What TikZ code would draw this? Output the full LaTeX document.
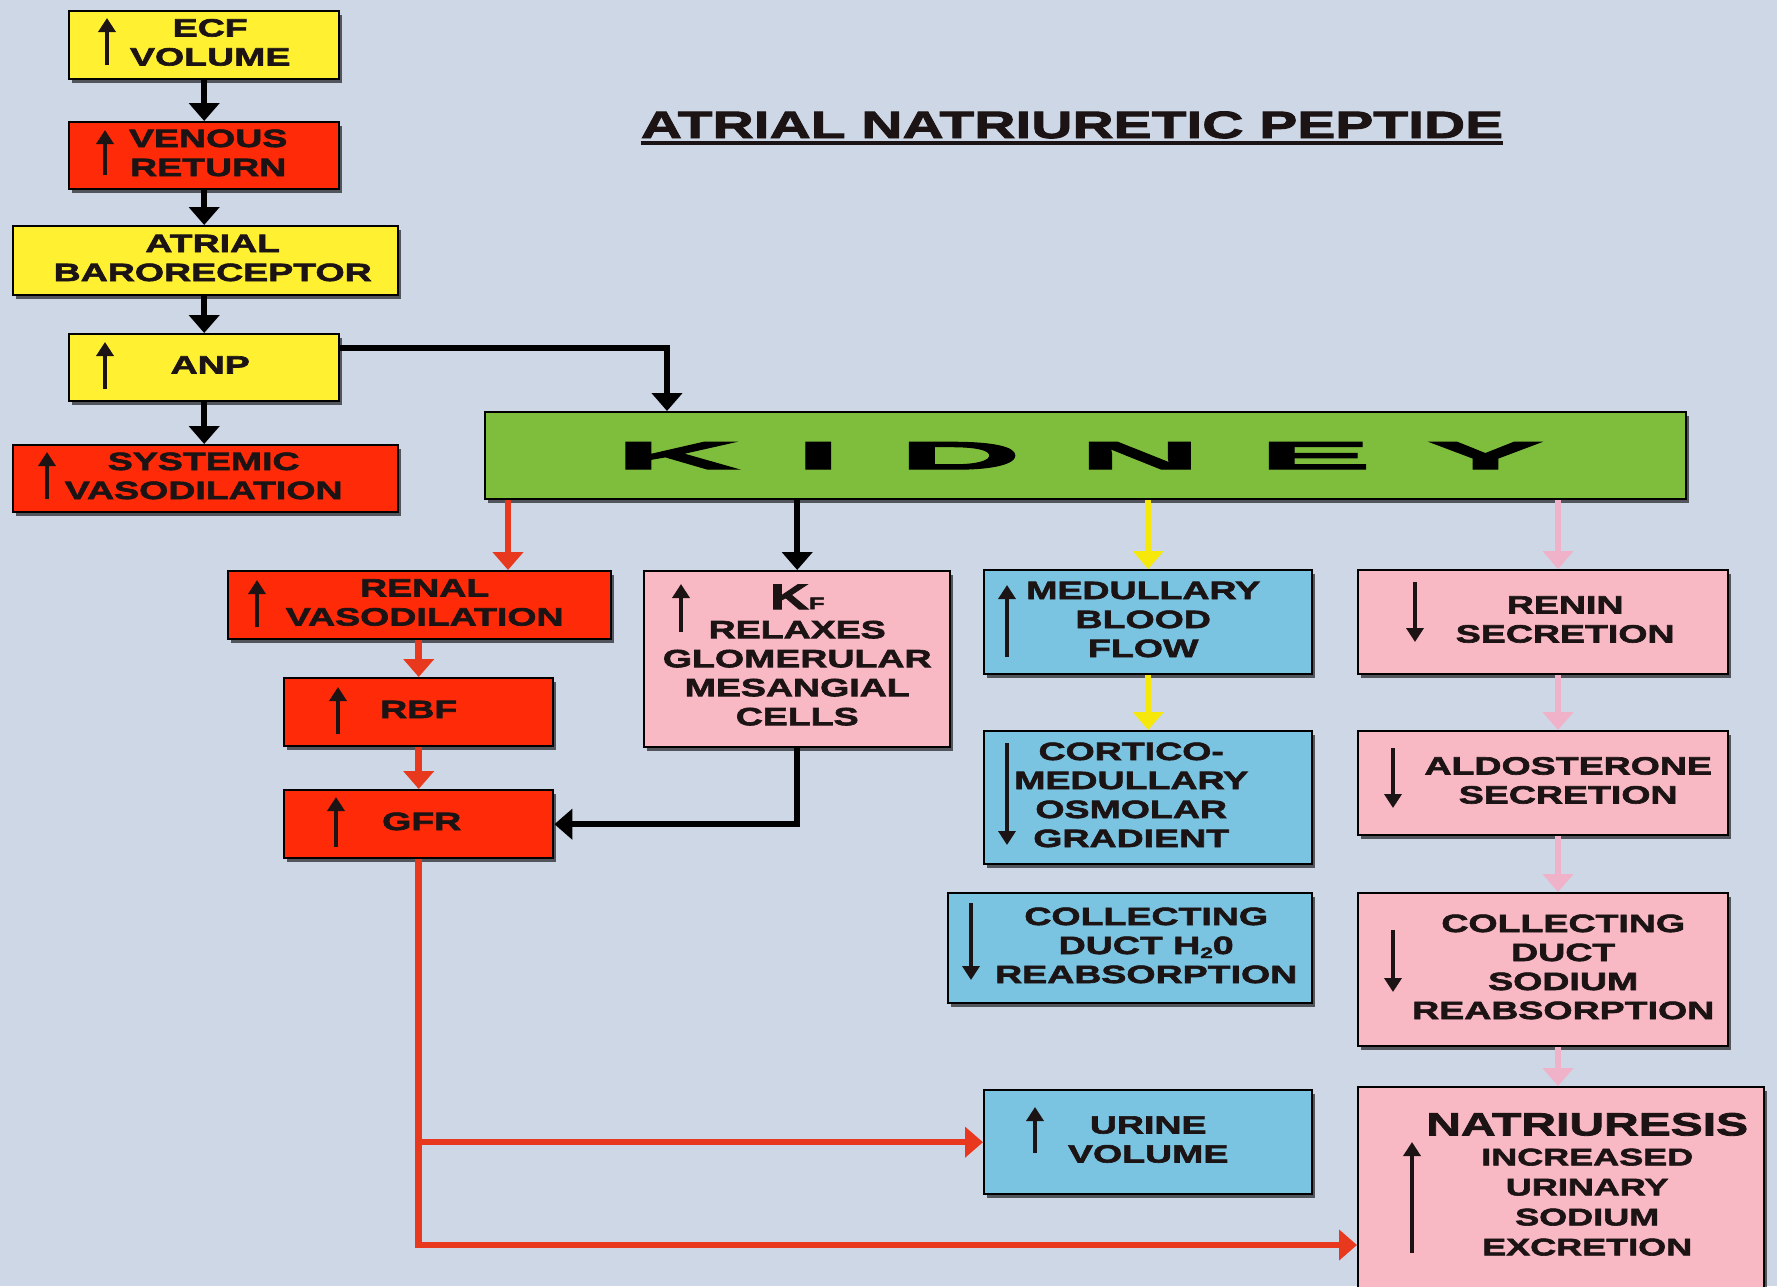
\documentclass[tikz,border=0pt]{standalone}
\usepackage{fontspec}
\setmainfont{Liberation Sans}
\newfontfamily\bodyfont[FakeStretch=1.5,FakeBold=2.5]{Liberation Sans}
\newfontfamily\widefont[FakeStretch=4.4,FakeBold=3]{Liberation Sans}
\usetikzlibrary{arrows.meta,shadows,calc}

\definecolor{bgc}{RGB}{206,215,230}
\definecolor{ylw}{RGB}{255,240,50}
\definecolor{rdb}{RGB}{255,42,8}
\definecolor{grn}{RGB}{126,190,60}
\definecolor{pnk}{RGB}{248,184,196}
\definecolor{blu}{RGB}{122,196,226}
\definecolor{txt}{RGB}{28,20,20}
\definecolor{ared}{RGB}{232,56,30}
\definecolor{ayel}{RGB}{245,232,10}
\definecolor{apnk}{RGB}{240,178,200}

% multi-line box label, shifted sideways by half of #1
\newcommand{\boxtext}[2]{\hspace*{#1}\begin{tabular}{@{}c@{}}#2\end{tabular}}

\tikzset{
  bx/.style={draw=black, line width=2.4pt, anchor=north west, inner sep=0pt,
    text=txt, font=\bodyfont\bfseries\fontsize{25}{29}\selectfont,
    drop shadow={shadow xshift=3pt, shadow yshift=-4pt, opacity=.6, fill=black}},
  conn/.style={line width=6.5pt, -{Triangle[width=30pt,length=18pt]}},
  blk/.style={conn, draw=black},
  rdc/.style={conn, draw=ared},
  ylc/.style={conn, draw=ayel},
  pkc/.style={conn, draw=apnk},
  ind/.style={draw=txt, line width=4.5pt, -{Triangle[width=17pt,length=14pt]}},
}

\begin{document}
\begin{tikzpicture}[x=1pt, y=-1pt]
\fill[bgc] (0,0) rectangle (1777,1286);
\useasboundingbox (0,0) rectangle (1777,1286);

% title
\node[font=\bodyfont\bfseries\fontsize{38}{40}\selectfont, text=txt, anchor=base, inner sep=0pt]
  (title) at (1072,138) {ATRIAL NATRIURETIC PEPTIDE};
\draw[line width=3.5pt, txt] ([yshift=-5pt]title.base west) -- ([yshift=-5pt]title.base east);

% left column
\node[bx, fill=ylw, minimum width=270pt, minimum height=68pt] (ecf) at (68,10) {\boxtext{12pt}{ECF\\VOLUME}};
\node[bx, fill=rdb, minimum width=270pt, minimum height=67pt] (venous) at (68,121) {\boxtext{8pt}{VENOUS\\RETURN}};
\node[bx, fill=ylw, minimum width=385pt, minimum height=69pt] (atrial) at (12,225) {\boxtext{14pt}{ATRIAL\\BARORECEPTOR}};
\node[bx, fill=ylw, minimum width=270pt, minimum height=67pt] (anp) at (68,333) {\boxtext{12pt}{ANP}};
\node[bx, fill=rdb, minimum width=385pt, minimum height=67pt] (systemic) at (12,444) {\boxtext{-4pt}{SYSTEMIC\\VASODILATION}};

% kidney
\node[bx, fill=grn, text=black, minimum width=1201pt, minimum height=87pt,
  font=\widefont\bfseries\fontsize{39}{39}\selectfont] (kidney) at (484,411)
  {\hspace*{-14pt}K\hspace{56pt}I\hspace{56pt}D\hspace{56pt}N\hspace{56pt}E\hspace{56pt}Y};

% red branch
\node[bx, fill=rdb, minimum width=383pt, minimum height=68pt] (renal) at (227,570) {\boxtext{10pt}{RENAL\\VASODILATION}};
\node[bx, fill=rdb, minimum width=269pt, minimum height=68pt] (rbf) at (283,677) {\boxtext{0pt}{RBF}};
\node[bx, fill=rdb, minimum width=269pt, minimum height=68pt] (gfr) at (283,789) {\boxtext{6pt}{GFR}};

% filtration coefficient
\node[bx, fill=pnk, minimum width=306pt, minimum height=176pt] (kf) at (643,570)
  {\boxtext{0pt}{{\fontsize{36}{36}\selectfont K}{\fontsize{17}{17}\selectfont F}\\RELAXES\\GLOMERULAR\\MESANGIAL\\CELLS}};

% medullary column
\node[bx, fill=blu, minimum width=328pt, minimum height=104pt] (med) at (983,569) {\boxtext{-10pt}{MEDULLARY\\BLOOD\\FLOW}};
\node[bx, fill=blu, minimum width=328pt, minimum height=133pt] (cort) at (983,730) {\boxtext{-34pt}{CORTICO-\\MEDULLARY\\OSMOLAR\\GRADIENT}};
\node[bx, fill=blu, minimum width=364pt, minimum height=110pt] (water) at (947,892)
  {\boxtext{32pt}{COLLECTING\\DUCT H{\fontsize{15}{15}\selectfont\raisebox{-4pt}{2}}0\\REABSORPTION}};
\node[bx, fill=blu, minimum width=328pt, minimum height=104pt] (urine) at (983,1089) {\boxtext{0pt}{URINE\\VOLUME}};

% renin column
\node[bx, fill=pnk, minimum width=370pt, minimum height=104pt] (renin) at (1357,569) {\boxtext{44pt}{RENIN\\SECRETION}};
\node[bx, fill=pnk, minimum width=370pt, minimum height=104pt] (aldo) at (1357,730) {\boxtext{50pt}{ALDOSTERONE\\SECRETION}};
\node[bx, fill=pnk, minimum width=370pt, minimum height=153pt] (sodium) at (1357,892) {\boxtext{40pt}{COLLECTING\\DUCT\\SODIUM\\REABSORPTION}};
\node[bx, fill=pnk, minimum width=406pt, minimum height=203pt, font=\bodyfont\bfseries\fontsize{24}{30}\selectfont] (nat) at (1357,1086)
  {\boxtext{52pt}{{\fontsize{32}{36}\selectfont NATRIURESIS}\\INCREASED\\URINARY\\SODIUM\\EXCRETION}};

% up / down marks inside the boxes
\draw[ind] ([shift={(39,55)}]ecf.north west) -- ([shift={(39,8)}]ecf.north west);
\draw[ind] ([shift={(37,54)}]venous.north west) -- ([shift={(37,9)}]venous.north west);
\draw[ind] ([shift={(37,56)}]anp.north west) -- ([shift={(37,9)}]anp.north west);
\draw[ind] ([shift={(35,55)}]systemic.north west) -- ([shift={(35,8)}]systemic.north west);
\draw[ind] ([shift={(30,57)}]renal.north west) -- ([shift={(30,10)}]renal.north west);
\draw[ind] ([shift={(55,57)}]rbf.north west) -- ([shift={(55,10)}]rbf.north west);
\draw[ind] ([shift={(53,58)}]gfr.north west) -- ([shift={(53,8)}]gfr.north west);
\draw[ind] ([shift={(38,62)}]kf.north west) -- ([shift={(38,14)}]kf.north west);
\draw[ind] ([shift={(24,88)}]med.north west) -- ([shift={(24,16)}]med.north west);
\draw[ind] ([shift={(24,13)}]cort.north west) -- ([shift={(24,115)}]cort.north west);
\draw[ind] ([shift={(24,11)}]water.north west) -- ([shift={(24,88)}]water.north west);
\draw[ind] ([shift={(52,64)}]urine.north west) -- ([shift={(52,18)}]urine.north west);
\draw[ind] ([shift={(58,13)}]renin.north west) -- ([shift={(58,73)}]renin.north west);
\draw[ind] ([shift={(36,18)}]aldo.north west) -- ([shift={(36,78)}]aldo.north west);
\draw[ind] ([shift={(36,38)}]sodium.north west) -- ([shift={(36,100)}]sodium.north west);
\draw[ind] ([shift={(55,167)}]nat.north west) -- ([shift={(55,56)}]nat.north west);

% connectors
\coordinate (anpout) at (667,348);
\coordinate (redx) at (508,0);
\coordinate (pinkx) at (1558,0);
\coordinate (natin) at ($(nat.north west)+(0,159)$);

\draw[blk] (ecf.south) -- (venous.north);
\draw[blk] (venous.south) -- (venous.south |- atrial.north);
\draw[blk] (atrial.south -| anp.south) -- (anp.north);
\draw[blk] (anp.south) -- (anp.south |- systemic.north);
\draw[blk] (anp.east |- anpout) -| (kidney.north -| anpout);

\draw[rdc] (kidney.south -| redx) -- (renal.north -| redx);
\draw[blk] (kidney.south -| kf.north) -- (kf.north);
\draw[ylc] (kidney.south -| med.north) -- (med.north);
\draw[pkc] (kidney.south -| pinkx) -- (renin.north -| pinkx);

\draw[rdc] (renal.south -| rbf.north) -- (rbf.north);
\draw[rdc] (rbf.south) -- (gfr.north);
\draw[blk] (kf.south) |- (gfr.east);

\draw[ylc] (med.south) -- (cort.north);

\draw[pkc] (renin.south -| pinkx) -- (aldo.north -| pinkx);
\draw[pkc] (aldo.south -| pinkx) -- (sodium.north -| pinkx);
\draw[pkc] (sodium.south -| pinkx) -- (nat.north -| pinkx);

\draw[rdc] (gfr.south) |- (natin);
\draw[rdc] (gfr.south |- urine.west) -- (urine.west);
\end{tikzpicture}
\end{document}
